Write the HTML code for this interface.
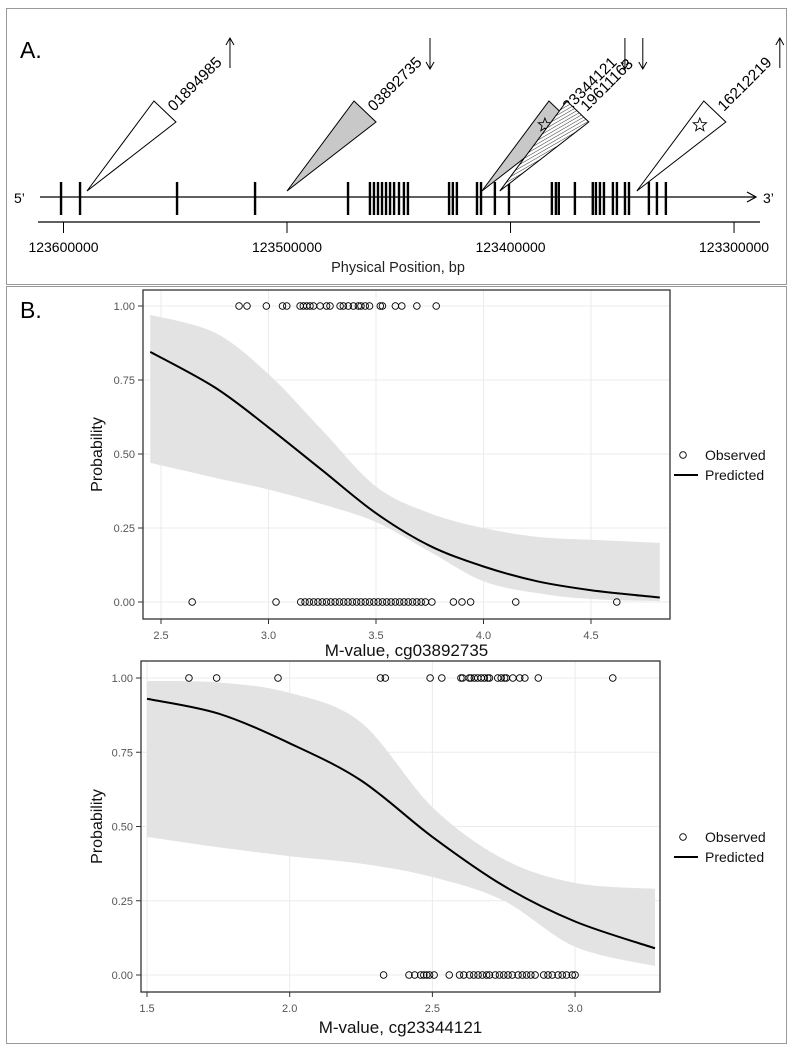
<!DOCTYPE html>
<html><head><meta charset="utf-8">
<style>
html,body{margin:0;padding:0;background:#fff;}
svg{display:block;font-family:"Liberation Sans",sans-serif;}
</style></head>
<body>
<svg id="fig" width="794" height="1050" viewBox="0 0 794 1050" xmlns="http://www.w3.org/2000/svg">
<defs>
<pattern id="hatch" patternUnits="userSpaceOnUse" width="3" height="3" patternTransform="rotate(60)">
<rect width="3" height="3" fill="#fff"/><line x1="0" y1="0" x2="0" y2="3" stroke="#333" stroke-width="1"/>
</pattern>
</defs>
<rect x="6.5" y="8.5" width="780" height="276" fill="none" stroke="#999"/>
<rect x="6.5" y="286.5" width="780" height="757" fill="none" stroke="#999"/>
<text x="20" y="58" font-size="23">A.</text>
<text x="20" y="318" font-size="23">B.</text>
<g id="gA"></g>
<g id="g1"></g>
<g id="g2"></g>
</svg>
<script>
// ---- Panel A data ----
const exonPos = [123601100,123592600,123549200,123514300,123472700,123462900,123461100,123459300,123457500,123455700,123453900,123452100,123449900,123447700,123445900,123427500,123425800,123424000,123415000,123413200,123407000,123400700,123381500,123379700,123378400,123371200,123363200,123361800,123360000,123358200,123354200,123352400,123348800,123347000,123338100,123334500,123330500];
const cpgNames = ["01894985","03892735","23344121","19611163","16212219"];
const cpgPos = [123589500,123500000,123412800,123404800,123343500];
const cpgDir = ["up","down","down","down","up"];
const cpgFill = ["white","gray","gray","hatch","white"];
const cpgStar = [false,false,true,false,true];
const posTicks = [123600000,123500000,123400000,123300000];

// ---- Chart 1 data ----
const c1X = [2.45,2.75,3.0,3.25,3.5,3.75,4.0,4.25,4.5,4.82];
const c1Fit = [0.845,0.725,0.59,0.445,0.30,0.19,0.12,0.07,0.04,0.015];
const c1Hi = [0.97,0.91,0.77,0.58,0.39,0.30,0.25,0.22,0.21,0.20];
const c1Lo = [0.47,0.42,0.38,0.33,0.27,0.17,0.07,0.03,0.01,0.003];
const c1Obs1 = [2.863,2.90,2.99,3.065,3.085,3.147,3.162,3.178,3.193,3.209,3.24,3.27,3.286,3.333,3.348,3.371,3.395,3.418,3.43,3.45,3.47,3.52,3.53,3.59,3.62,3.69,3.78];
const c1Obs0 = [2.645,3.035,3.15,3.17,3.19,3.21,3.23,3.25,3.27,3.29,3.31,3.33,3.35,3.37,3.39,3.41,3.43,3.45,3.47,3.49,3.51,3.53,3.55,3.57,3.59,3.61,3.63,3.65,3.67,3.69,3.71,3.73,3.76,3.86,3.90,3.94,4.15,4.62];
const c1XTicks = ["2.5","3.0","3.5","4.0","4.5"];
const yTickLabels = ["0.00","0.25","0.50","0.75","1.00"];

// ---- Chart 2 data ----
const c2X = [1.5,1.75,2.0,2.25,2.5,2.75,3.0,3.28];
const c2Fit = [0.93,0.88,0.78,0.655,0.465,0.30,0.18,0.09];
const c2Hi = [0.99,0.985,0.95,0.85,0.565,0.39,0.31,0.29];
const c2Lo = [0.465,0.43,0.40,0.375,0.33,0.25,0.095,0.03];
const c2Obs1 = [1.647,1.744,1.959,2.318,2.335,2.492,2.533,2.60,2.606,2.629,2.635,2.647,2.659,2.671,2.682,2.694,2.70,2.729,2.741,2.753,2.759,2.782,2.806,2.824,2.871,3.132];
const c2Obs0 = [2.329,2.418,2.438,2.459,2.47,2.48,2.49,2.506,2.559,2.595,2.61,2.63,2.645,2.66,2.675,2.69,2.70,2.72,2.735,2.75,2.765,2.78,2.80,2.815,2.83,2.845,2.86,2.89,2.905,2.92,2.94,2.955,2.97,2.99,3.0];
const c2XTicks = ["1.5","2.0","2.5","3.0"];

const NS="http://www.w3.org/2000/svg";
function mk(parent,tag,attrs,txt){const e=document.createElementNS(NS,tag);for(const k in attrs)e.setAttribute(k,attrs[k]);if(txt!==undefined)e.textContent=txt;parent.appendChild(e);return e;}

// ---------- Panel A ----------
(function(){
  const g=document.getElementById('gA');
  const px=bp=>63.5+(123600000-bp)/447.4;
  let e;
  e=mk(g,'line',{x1:40,y1:197,x2:755,y2:197,stroke:'#000','stroke-width':1.2});
  
  
  e=mk(g,'path',{d:'M747 192 L756 197 L747 202',fill:'none',stroke:'#000','stroke-width':1.2});
  
  
  e=mk(g,'text',{x:14,y:203,'font-size':14},"5’");
  
  
  e=mk(g,'text',{x:763,y:203,'font-size':14},"3’");
  
  
  exonPos.forEach(p=>{
    const x=px(p);
    const r=mk(g,'rect',{x:x-1.2,y:182,width:2.4,height:33,fill:'#000'});
    
    
  });
  e=mk(g,'line',{x1:38,y1:222,x2:760,y2:222,stroke:'#000','stroke-width':1.3});
  
  
  posTicks.forEach(t=>{
    const x=px(t);
    const l=mk(g,'line',{x1:x,y1:222,x2:x,y2:233,stroke:'#000'});
    
    
    const tx=mk(g,'text',{x:x,y:252,'font-size':14,'text-anchor':'middle'},String(t));
    
    
  });
  e=mk(g,'text',{x:398,y:272,'font-size':14.5,'text-anchor':'middle',fill:'#222'},'Physical Position, bp');
  
  
  cpgPos.forEach((p,i)=>{
    const x=px(p), y=191;
    const fill=cpgFill[i]==='gray'?'#c8c8c8':(cpgFill[i]==='hatch'?'url(#hatch)':'#fff');
    const w=mk(g,'polygon',{points:`${x},${y} ${x+67},${y-90} ${x+89},${y-69}`,fill:fill,stroke:'#000','stroke-width':1});
    
    
    if(cpgStar[i]){
      const cx=x+63,cy=y-66,R=7,r=3;let pts=[];
      for(let k=0;k<10;k++){const a=-Math.PI/2+k*Math.PI/5;const rr=k%2?r:R;pts.push((cx+rr*Math.cos(a)).toFixed(1)+','+(cy+rr*Math.sin(a)).toFixed(1));}
      const s=mk(g,'polygon',{points:pts.join(' '),fill:'none',stroke:'#000','stroke-width':0.9});
      
      
    }
    const t=mk(g,'text',{x:0,y:0,'font-size':15.5,transform:`translate(${x+87},${y-79}) rotate(-45)`},cpgNames[i]);
    
    
    const ax=x+143;
    const d=cpgDir[i]==='up'?`M${ax} 68 L${ax} 38 M${ax-4} 45 L${ax} 38 L${ax+4} 45`:`M${ax} 38 L${ax} 69 M${ax-4} 62 L${ax} 69 L${ax+4} 62`;
    const a=mk(g,'path',{d:d,fill:'none',stroke:'#000','stroke-width':1});
    
    
  });
})();

// ---------- Charts ----------
function smooth(pts){
  let d='M'+pts[0][0]+' '+pts[0][1];
  for(let i=0;i<pts.length-1;i++){
    const p0=pts[Math.max(i-1,0)],p1=pts[i],p2=pts[i+1],p3=pts[Math.min(i+2,pts.length-1)];
    const c1=[p1[0]+(p2[0]-p0[0])/6,p1[1]+(p2[1]-p0[1])/6];
    const c2=[p2[0]-(p3[0]-p1[0])/6,p2[1]-(p3[1]-p1[1])/6];
    d+=` C${c1[0].toFixed(1)} ${c1[1].toFixed(1)} ${c2[0].toFixed(1)} ${c2[1].toFixed(1)} ${p2[0].toFixed(1)} ${p2[1].toFixed(1)}`;
  }
  return d;
}
function chart(gid,cfg){
  const g=document.getElementById(gid);
  const {L,R,T,B,xmin,xmax,ytop,ybot,xTicks,X,F,H,Lo,O1,O0,title,titleY,tickY,legY}=cfg;
  const sx=v=>L+(v-xmin)/(xmax-xmin)*(R-L);
  const sy=v=>ybot+(ytop-ybot)*v;
  let e;
  e=mk(g,'rect',{x:L,y:T,width:R-L,height:B-T,fill:'#fff'});
  
  
  xTicks.forEach(t=>{
    const v=parseFloat(t);
    const l=mk(g,'line',{x1:sx(v),y1:T,x2:sx(v),y2:B,stroke:'#ebebeb','stroke-width':1});
    
    
  });
  yTickLabels.forEach(t=>{
    const v=parseFloat(t);
    const l=mk(g,'line',{x1:L,y1:sy(v),x2:R,y2:sy(v),stroke:'#ebebeb','stroke-width':1});
    
    
  });
  const up=X.map((x,i)=>[sx(x),sy(H[i])]);
  const dn=X.map((x,i)=>[sx(x),sy(Lo[i])]).reverse();
  let d=smooth(up)+' L'+dn[0][0]+' '+dn[0][1]+smooth(dn).replace(/^M[^C]*/,'')+' Z';
  e=mk(g,'path',{d:d,fill:'#e3e3e3',stroke:'none'});
  
  
  e=mk(g,'path',{d:smooth(X.map((x,i)=>[sx(x),sy(F[i])])),fill:'none',stroke:'#000','stroke-width':2});
  
  
  O1.forEach(v=>{
    const c=mk(g,'circle',{cx:sx(v),cy:sy(1),r:3.3,fill:'none',stroke:'#000','stroke-width':0.9});
    
    
  });
  O0.forEach(v=>{
    const c=mk(g,'circle',{cx:sx(v),cy:sy(0),r:3.3,fill:'none',stroke:'#000','stroke-width':0.9});
    
    
  });
  e=mk(g,'rect',{x:L,y:T,width:R-L,height:B-T,fill:'none',stroke:'#333','stroke-width':1.3});
  
  
  yTickLabels.forEach(t=>{
    const v=parseFloat(t);
    const l=mk(g,'line',{x1:L-5,y1:sy(v),x2:L,y2:sy(v),stroke:'#333'});
    
    
    const tx=mk(g,'text',{x:L-8,y:sy(v)+4,'font-size':11,'text-anchor':'end',fill:'#555'},t);
    
    
  });
  xTicks.forEach(t=>{
    const v=parseFloat(t);
    const l=mk(g,'line',{x1:sx(v),y1:B,x2:sx(v),y2:B+5,stroke:'#333'});
    
    
    const tx=mk(g,'text',{x:sx(v),y:tickY,'font-size':11,'text-anchor':'middle',fill:'#555'},t);
    
    
  });
  e=mk(g,'text',{x:(L+R)/2,y:titleY,'font-size':17,'text-anchor':'middle',fill:'#111'},title);
  
  
  const cyM=(T+B)/2;
  e=mk(g,'text',{x:0,y:0,'font-size':16,'text-anchor':'middle',fill:'#111',transform:`translate(102,${cyM}) rotate(-90)`},'Probability');
  
  
  e=mk(g,'circle',{cx:683,cy:legY,r:3.3,fill:'none',stroke:'#000','stroke-width':0.9});
  
  
  e=mk(g,'text',{x:705,y:legY+5,'font-size':14,fill:'#111'},'Observed');
  
  
  e=mk(g,'line',{x1:674,y1:legY+20,x2:698,y2:legY+20,stroke:'#000','stroke-width':2});
  
  
  e=mk(g,'text',{x:705,y:legY+25,'font-size':14,fill:'#111'},'Predicted');
  
  
}
chart('g1',{L:143,R:670,T:290,B:619,xmin:2.5-(161-143)/215,xmax:2.5+(670-161)/215,ytop:306,ybot:602,
  xTicks:c1XTicks,X:c1X,F:c1Fit,H:c1Hi,Lo:c1Lo,O1:c1Obs1,O0:c1Obs0,title:'M-value, cg03892735',titleY:656,tickY:639,legY:455});
chart('g2',{L:141,R:660,T:661,B:992,xmin:1.5-(147-141)/285.4,xmax:1.5+(660-147)/285.4,ytop:678,ybot:975,
  xTicks:c2XTicks,X:c2X,F:c2Fit,H:c2Hi,Lo:c2Lo,O1:c2Obs1,O0:c2Obs0,title:'M-value, cg23344121',titleY:1033,tickY:1012,legY:837});
</script>
</body></html>
